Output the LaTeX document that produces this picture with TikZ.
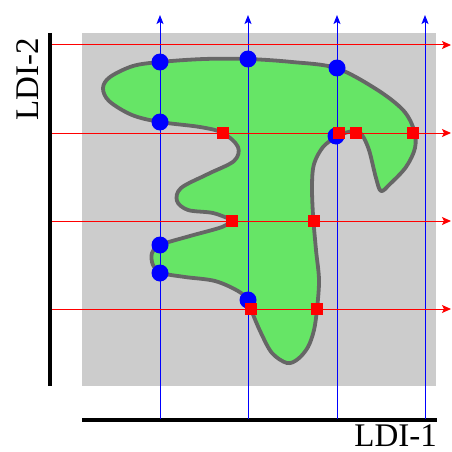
\documentclass[tikz,border=0pt]{standalone}
\usepackage{fontspec}
\setmainfont{Liberation Serif}
\usetikzlibrary{arrows.meta}
\definecolor{blobgreen}{RGB}{102,229,102}
\definecolor{bggray}{RGB}{204,204,204}
\definecolor{outlinegray}{RGB}{102,102,102}
\begin{document}
\begin{tikzpicture}[x=1pt,y=-1pt,
  dotb/.style={circle,fill=blue,inner sep=0pt,minimum size=17pt},
  sqr/.style={rectangle,fill=red,inner sep=0pt,minimum size=12pt},
  vline/.style={blue,line width=1pt,-{Stealth[length=9pt,width=7pt,inset=2pt]}},
  hline/.style={red,line width=1pt,-{Stealth[length=9pt,width=8pt,inset=2pt]}},
  axisline/.style={black,line width=4pt},
  lbl/.style={font=\fontsize{33}{36}\selectfont,inner sep=0pt}]
\useasboundingbox (0,0) rectangle (452,452);
% background
\fill[bggray] (82,33) rectangle (436,386);
% blob
\filldraw[fill=blobgreen,draw=outlinegray,line width=3.8pt,line join=round]
  plot[smooth,tension=0.55] coordinates {
  (232,220) (213,213) (188,210) (177,201) (181,188) (208,174) (234,161)
  (238,147) (223,133) (200,127) (160,122) (132,115) (109,101) (103,88)
  (110,77) (133,66) (160,62) (204,59) (248,59) (292,62) (336,68) (376,89)
  (403,110) (414,130) (415,148) (406,167) (390,184) (381,191) (376,178)
  (369,150) (362,135) (355,131) (345,133) (336,137) (323,147) (314,164)
  (312,185) (313,215) (316,250) (319,280) (317,309) (314,330) (308,347)
  (298,359) (287,363) (272,353) (261,333) (252,312) (248,300) (238,291)
  (215,281) (185,277) (162,273) (153,265) (152,253) (160,245) (190,236)
  (222,227) (232,220)} -- cycle;
% axes
\coordinate (yax0) at (50,33);
\coordinate (yax1) at (50,386);
\coordinate (xax0) at (82,419.5);
\coordinate (xax1) at (437,419.5);
\draw[axisline] (yax0) -- (yax1);
\draw[axisline] (xax0) -- (xax1);
% vertical blue lines
\foreach \x/\n in {160/a,248/b,337/c,425/d}{
  \coordinate (vb\n) at (\x,419);
  \coordinate (vt\n) at (\x,15);
  \draw[vline] (vb\n) -- (vt\n);
}
% horizontal red lines
\foreach \y/\n in {45/a,133/b,221/c,309/d}{
  \coordinate (hl\n) at (52,\y);
  \coordinate (hr\n) at (451,\y);
  \draw[hline] (hl\n) -- (hr\n);
}
% blue dots
\node[dotb] (b1) at (160,62) {};
\node[dotb] (b2) at (248,59) {};
\node[dotb] (b3) at (337,68) {};
\node[dotb] (b4) at (160,122) {};
\node[dotb] (b5) at (336,136) {};
\node[dotb] (b6) at (160,245) {};
\node[dotb] (b7) at (160,273) {};
\node[dotb] (b8) at (248,300) {};
% red squares
\node[sqr] (r1) at (223,133) {};
\node[sqr] (r2) at (339,133) {};
\node[sqr] (r3) at (356,133) {};
\node[sqr] (r4) at (413,133) {};
\node[sqr] (r5) at (232,221) {};
\node[sqr] (r6) at (314,221) {};
\node[sqr] (r7) at (251,309) {};
\node[sqr] (r8) at (317,309) {};
% labels
\node[lbl,anchor=base east] (ldi1) at (437,446) {LDI-1};
\node[lbl,rotate=90,anchor=base east] (ldi2) at (38,38) {LDI-2};
\end{tikzpicture}
\end{document}
